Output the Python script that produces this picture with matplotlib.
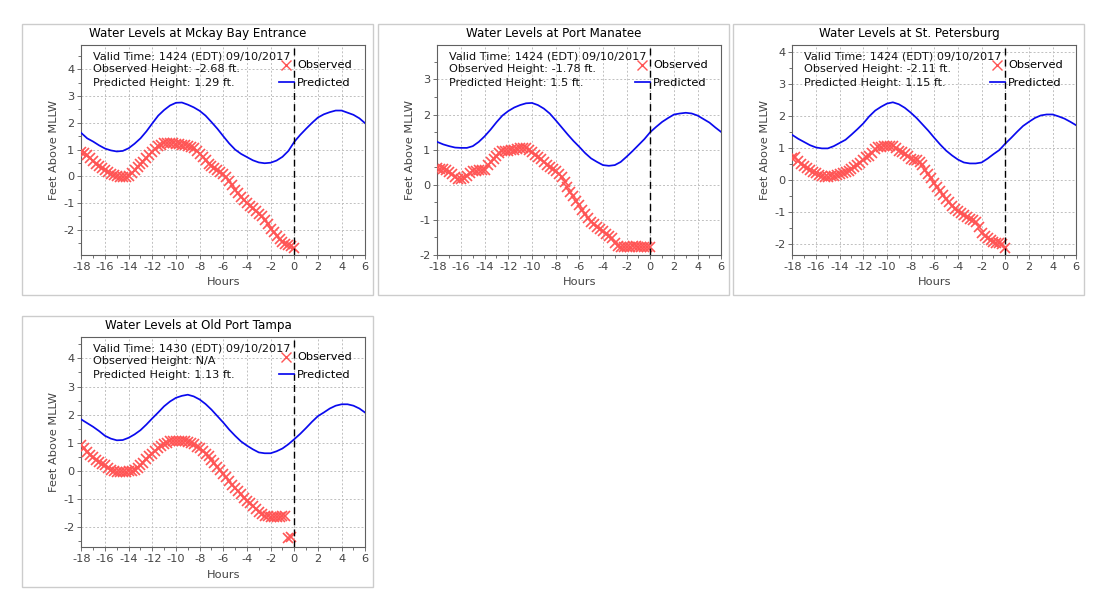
"""
 water levels at four tide stations, observed vs predicted
"""
import matplotlib
matplotlib.use('Agg')
import matplotlib.pyplot as plt
import numpy as np
from matplotlib.patches import Rectangle
from matplotlib.ticker import MultipleLocator

W, H = 1103, 615

titles = ['Water Levels at Mckay Bay Entrance', 'Water Levels at Port Manatee',
          'Water Levels at St. Petersburg', 'Water Levels at Old Port Tampa']
valid_time = ['Valid Time: 1424 (EDT) 09/10/2017', 'Valid Time: 1424 (EDT) 09/10/2017',
              'Valid Time: 1424 (EDT) 09/10/2017', 'Valid Time: 1430 (EDT) 09/10/2017']
obs_text = ['Observed Height: -2.68 ft.', 'Observed Height: -1.78 ft.',
            'Observed Height: -2.11 ft.', 'Observed Height: N/A']
pred_text = ['Predicted Height: 1.29 ft.', 'Predicted Height: 1.5 ft.',
             'Predicted Height: 1.15 ft.', 'Predicted Height: 1.13 ft.']

# Hours for each series
#
t_pred = np.arange(-18, 6.01, 0.5)
t_obs = np.arange(-18, 0.01, 0.25)

pred_mckay = [1.62, 1.42, 1.30, 1.16, 1.04, 0.97, 0.93, 0.95, 1.05, 1.22,
              1.42, 1.68, 1.98, 2.27, 2.48, 2.65, 2.75, 2.76, 2.68, 2.58,
              2.45, 2.27, 2.03, 1.78, 1.50, 1.23, 1.00, 0.84, 0.72, 0.60,
              0.52, 0.49, 0.51, 0.59, 0.73, 0.95, 1.29, 1.55, 1.78, 2.00,
              2.20, 2.32, 2.40, 2.46, 2.46, 2.38, 2.30, 2.17, 1.98]
obs_mckay = [0.92, 0.86, 0.78, 0.67, 0.56, 0.47, 0.38, 0.30, 0.22, 0.16,
             0.10, 0.05, 0.02, -0.01, -0.03, -0.03, 0.03, 0.12, 0.24, 0.35,
             0.45, 0.55, 0.67, 0.79, 0.90, 1.02, 1.12, 1.18, 1.23, 1.24,
             1.24, 1.23, 1.22, 1.20, 1.18, 1.17, 1.15, 1.11, 1.05, 0.96,
             0.85, 0.73, 0.60, 0.48, 0.37, 0.30, 0.22, 0.16, 0.10, -0.02,
             -0.18, -0.34, -0.50, -0.63, -0.76, -0.88, -1.00, -1.10, -1.20, -1.30,
             -1.40, -1.50, -1.62, -1.78, -1.95, -2.08, -2.22, -2.35, -2.45, -2.52,
             -2.58, -2.62, -2.68]

pred_manatee = [1.22, 1.15, 1.10, 1.06, 1.05, 1.05, 1.10, 1.22, 1.38, 1.57,
                1.78, 1.97, 2.10, 2.20, 2.27, 2.32, 2.33, 2.27, 2.17, 2.03,
                1.84, 1.64, 1.44, 1.25, 1.08, 0.90, 0.75, 0.65, 0.56, 0.54,
                0.56, 0.65, 0.80, 0.96, 1.13, 1.30, 1.50, 1.65, 1.79, 1.90,
                2.00, 2.03, 2.05, 2.03, 1.97, 1.87, 1.77, 1.63, 1.50]
obs_manatee = [0.48, 0.44, 0.45, 0.42, 0.37, 0.30, 0.22, 0.17, 0.15, 0.19,
               0.26, 0.33, 0.38, 0.40, 0.41, 0.42, 0.43, 0.55, 0.65, 0.74,
               0.82, 0.90, 0.95, 0.97, 0.97, 0.98, 1.00, 1.03, 1.04, 1.04,
               1.04, 0.99, 0.92, 0.86, 0.78, 0.72, 0.65, 0.57, 0.50, 0.44,
               0.38, 0.32, 0.22, 0.08, -0.06, -0.20, -0.33, -0.45, -0.58, -0.72,
               -0.84, -0.95, -1.05, -1.13, -1.20, -1.27, -1.33, -1.40, -1.45, -1.53,
               -1.65, -1.73, -1.77, -1.78, -1.78, -1.76, -1.74, -1.73, -1.76, -1.77,
               -1.76, -1.77, -1.78]

pred_stpete = [1.42, 1.30, 1.20, 1.10, 1.03, 1.00, 1.00, 1.07, 1.17, 1.27,
               1.43, 1.60, 1.78, 2.00, 2.18, 2.30, 2.40, 2.44, 2.38, 2.27,
               2.12, 1.95, 1.75, 1.55, 1.33, 1.12, 0.93, 0.78, 0.65, 0.56,
               0.53, 0.53, 0.56, 0.68, 0.82, 0.95, 1.15, 1.33, 1.52, 1.70,
               1.83, 1.95, 2.03, 2.06, 2.06, 2.00, 1.93, 1.83, 1.72]
obs_stpete = [0.70, 0.72, 0.62, 0.52, 0.44, 0.38, 0.32, 0.26, 0.22, 0.18,
              0.14, 0.11, 0.12, 0.13, 0.14, 0.17, 0.20, 0.24, 0.27, 0.30,
              0.36, 0.42, 0.47, 0.54, 0.65, 0.72, 0.77, 0.85, 0.97, 1.03,
              1.05, 1.06, 1.07, 1.07, 1.07, 1.00, 0.93, 0.88, 0.82, 0.75,
              0.68, 0.65, 0.63, 0.58, 0.47, 0.33, 0.20, 0.08, -0.08, -0.20,
              -0.33, -0.45, -0.57, -0.68, -0.80, -0.88, -0.95, -1.02, -1.08, -1.13,
              -1.20, -1.25, -1.30, -1.45, -1.65, -1.73, -1.80, -1.85, -1.92, -1.95,
              -1.97, -2.00, -2.11]

pred_oldport = [1.83, 1.70, 1.57, 1.42, 1.25, 1.15, 1.09, 1.10, 1.18, 1.30,
                1.45, 1.65, 1.87, 2.08, 2.30, 2.47, 2.60, 2.67, 2.71, 2.65,
                2.54, 2.38, 2.18, 1.95, 1.72, 1.47, 1.25, 1.05, 0.90, 0.77,
                0.66, 0.63, 0.63, 0.70, 0.80, 0.95, 1.13, 1.32, 1.53, 1.75,
                1.95, 2.08, 2.22, 2.32, 2.37, 2.37, 2.32, 2.22, 2.07]
obs_oldport = [0.92, 0.80, 0.68, 0.58, 0.48, 0.40, 0.33, 0.26, 0.20, 0.12,
               0.05, 0.00, -0.02, -0.03, -0.03, -0.02, 0.00, 0.01, 0.03, 0.10,
               0.20, 0.30, 0.42, 0.53, 0.62, 0.70, 0.80, 0.88, 0.95, 1.00,
               1.05, 1.07, 1.08, 1.08, 1.07, 1.05, 1.03, 1.00, 0.95, 0.87,
               0.80, 0.72, 0.62, 0.52, 0.40, 0.28, 0.15, 0.02, -0.10, -0.23,
               -0.35, -0.48, -0.60, -0.72, -0.83, -0.95, -1.05, -1.15, -1.25, -1.35,
               -1.45, -1.53, -1.60, -1.61, -1.62, -1.62, -1.62, -1.62, -1.60, -1.60,
               -2.38, -2.35, np.nan]

preds = [pred_mckay, pred_manatee, pred_stpete, pred_oldport]
obss = [obs_mckay, obs_manatee, obs_stpete, obs_oldport]

ylims = [(-2.94, 4.91), (-2.0, 3.98), (-2.33, 4.23), (-2.70, 4.76)]

# Panel frames and axes boxes in pixels (left, top)
#
frames = [(22, 24), (378, 24), (733, 24), (22, 316)]
boxes = [(81.3, 45), (437.3, 45), (792.3, 45), (81.3, 337)]
ax_w, ax_h = 284, 210

plt.rcParams['font.family'] = ['DejaVu Sans']
plt.rcParams['axes.unicode_minus'] = False
fig = plt.figure(figsize=[W/100, H/100], dpi=100)

for k in range(4):

    fx, fy = frames[k]
    fig.add_artist(Rectangle((fx/W, 1-(fy+271)/H), 351/W, 271/H, fill=False,
                             ec='#cccccc', lw=1, transform=fig.transFigure))

    bx, by = boxes[k]
    ax = fig.add_axes([bx/W, 1-(by+ax_h)/H, ax_w/W, ax_h/H])

    ax.grid(which='major', color='#c0c0c0', ls=(0, (2, 2)), lw=0.7)
    ax.set_axisbelow(True)
    ax.axvline(0, color='k', ls=(0, (5, 3)), lw=1.0, zorder=4)

    ax.plot(t_obs, obss[k], ls='none', marker='x', color='#ff5555', ms=6.6, mew=1.2,
            label='Observed', zorder=3, clip_on=True)
    ax.plot(t_pred, preds[k], color='#0a0aee', lw=1.25, label='Predicted', zorder=3)

    ax.set_xlim(-18, 6)
    ax.set_ylim(*ylims[k])
    ax.xaxis.set_major_locator(MultipleLocator(2))
    ax.xaxis.set_minor_locator(MultipleLocator(1))
    ax.yaxis.set_major_locator(MultipleLocator(1))
    ax.yaxis.set_minor_locator(MultipleLocator(0.5))
    ax.tick_params(which='major', length=3, width=0.7, color='#707070',
                   labelsize=8.2, labelcolor='#444444', pad=2)
    ax.tick_params(which='minor', length=2, width=0.7, color='#707070')
    for s in ax.spines.values():
        s.set_color('#606060')
        s.set_linewidth(0.8)

    ax.set_xlabel('Hours', fontsize=8.2, color='#444444', labelpad=4)
    ax.set_ylabel('Feet Above MLLW', fontsize=8.2, color='#444444', labelpad=3)

    fig.text((fx+176)/W, 1-(by-8)/H, titles[k], fontsize=8.6, ha='center', va='baseline')

    for i, txt in enumerate([valid_time[k], obs_text[k], pred_text[k]]):
        fig.text((bx+12)/W, 1-(by+14.5+13*i)/H, txt, fontsize=8.15, color='#111111',
                 va='baseline', zorder=6)

    leg = ax.legend(loc='upper left', bbox_to_anchor=((bx+197.5)/W, 1-(by+15.5)/H),
                    bbox_transform=fig.transFigure, frameon=False, fontsize=8.2,
                    handlelength=1.35, handletextpad=0.25, labelspacing=0.7,
                    borderpad=0, borderaxespad=0)
    leg.legend_handles[0].set_markeredgewidth(1.0)

plt.savefig('out.png', dpi=100)
